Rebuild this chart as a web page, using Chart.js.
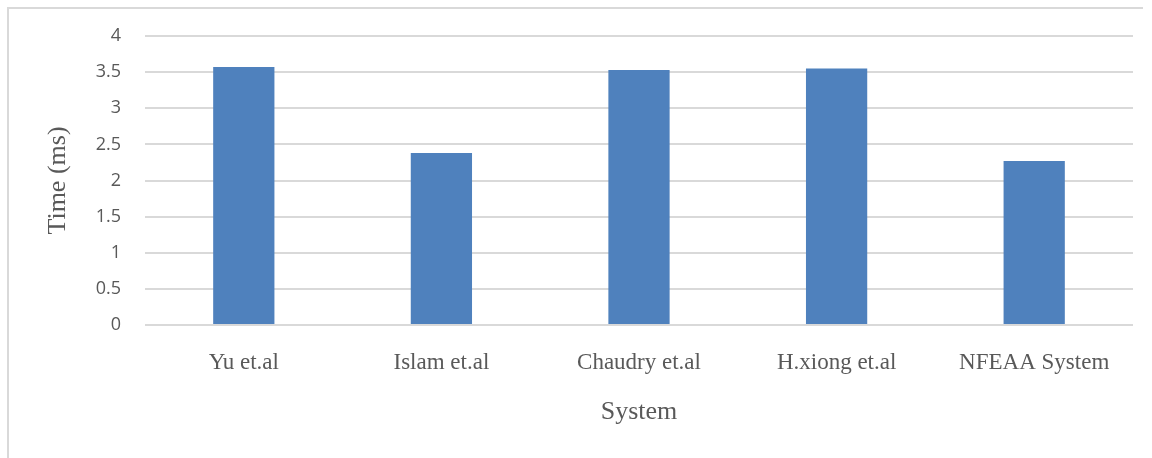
<!DOCTYPE html>
<html>
<head>
<meta charset="utf-8">
<script src="https://cdn.jsdelivr.net/npm/chart.js@4/dist/chart.umd.min.js"></script>
<style>
  html, body { margin: 0; padding: 0; background: #ffffff; overflow: hidden; }
  #wrap { position: relative; width: 1152px; height: 458px; }
</style>
</head>
<body>
<div id="wrap"><canvas id="chart" width="1152" height="458"></canvas></div>
<script>
// Processing time per system
const systems = ['Yu et.al', 'Islam et.al', 'Chaudry et.al', 'H.xiong et.al', 'NFEAA System'];
const timeMs = [3.57, 2.38, 3.53, 3.55, 2.27];
const yTicks = [0, 0.5, 1, 1.5, 2, 2.5, 3, 3.5, 4];

const serif = '"Liberation Serif", "Times New Roman", serif';
const sans = '"Open Sans", "Liberation Sans", sans-serif';

// Light frame around the chart object
const framePlugin = {
  id: 'frame',
  beforeDraw(chart) {
    const ctx = chart.ctx;
    ctx.save();
    ctx.fillStyle = '#ffffff';
    ctx.fillRect(0, 0, chart.width, chart.height);
    ctx.strokeStyle = '#d9d9d9';
    ctx.lineWidth = 2;
    ctx.beginPath();
    ctx.moveTo(8, chart.height + 2);
    ctx.lineTo(8, 8);
    ctx.lineTo(1143, 8);
    ctx.stroke();
    ctx.restore();
  }
};

new Chart(document.getElementById('chart'), {
  type: 'bar',
  data: {
    labels: systems,
    datasets: [{
      label: 'Time (ms)',
      data: timeMs,
      backgroundColor: '#4f81bd',
      borderWidth: 0,
      categoryPercentage: 1,
      barPercentage: 0.31
    }]
  },
  options: {
    responsive: false,
    animation: false,
    layout: { padding: { left: 8, right: 19, top: 36, bottom: 0 } },
    plugins: {
      legend: { display: false },
      tooltip: { enabled: false }
    },
    scales: {
      x: {
        grid: { display: false, drawTicks: false },
        border: { display: false },
        ticks: {
          color: '#595959',
          font: { family: serif, size: 23 },
          padding: 24,
          maxRotation: 0
        },
        title: {
          display: true,
          text: 'System',
          color: '#595959',
          font: { family: serif, size: 26 },
          padding: { top: 0, bottom: 30 }
        },
        afterFit(scale) { scale.height = 133; }
      },
      y: {
        min: 0,
        max: 4,
        afterBuildTicks(scale) { scale.ticks = yTicks.map(v => ({ value: v })); },
        grid: { color: '#d9d9d9', lineWidth: 2, drawTicks: false },
        border: { display: false },
        ticks: {
          color: '#595959',
          font: { family: sans, size: 18 },
          padding: 24,
          callback: (v) => String(v)
        },
        title: {
          display: true,
          text: 'Time (ms)',
          color: '#595959',
          font: { family: serif, size: 26 },
          padding: { top: 35, bottom: 0 }
        },
        afterFit(scale) { scale.width = 137; }
      }
    }
  },
  plugins: [framePlugin]
});
</script>
</body>
</html>
